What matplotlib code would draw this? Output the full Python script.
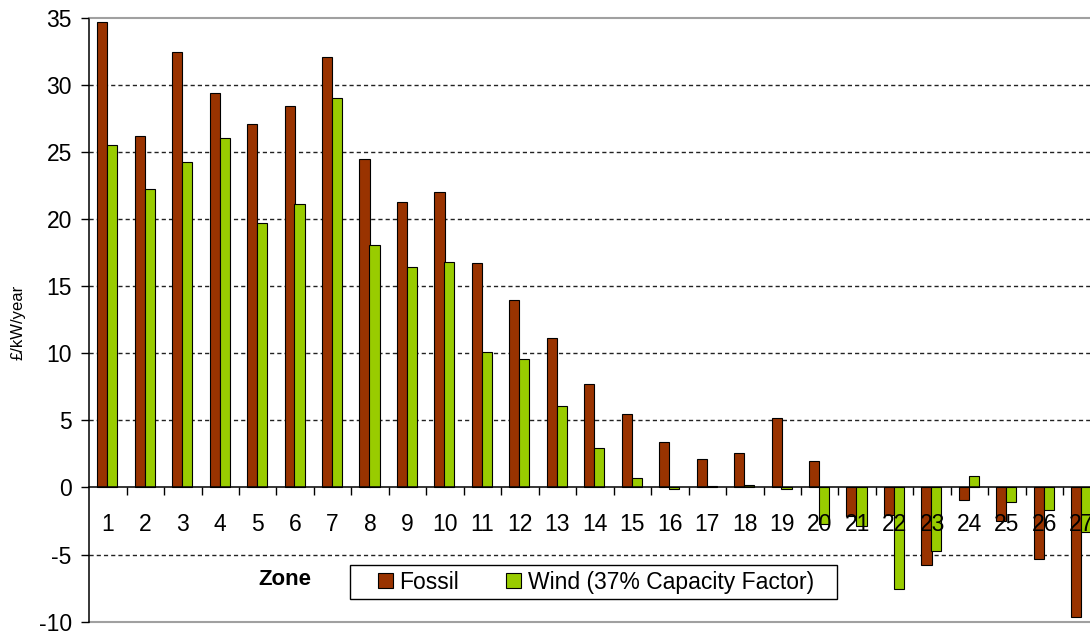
import matplotlib.pyplot as plt
import numpy as np
from matplotlib.patches import Rectangle

plt.rcParams["font.family"] = ["Liberation Sans", "DejaVu Sans"]

zones = [str(z) for z in range(1, 28)]
fossil = [34.65, 26.2, 32.45, 29.4, 27.1, 28.4, 32.05, 24.5, 21.3, 22.05,
          16.75, 13.95, 11.1, 7.7, 5.5, 3.4, 2.1, 2.6, 5.15, 1.95,
          -2.1, -2.05, -5.75, -0.95, -2.5, -5.35, -9.65]
wind = [25.55, 22.25, 24.25, 26.0, 19.7, 21.15, 29.05, 18.1, 16.4, 16.8,
        10.1, 9.55, 6.05, 2.95, 0.72, -0.12, 0.08, 0.18, -0.1, -2.7,
        -2.85, -7.6, -4.7, 0.82, -1.1, -1.7, -3.35]
yTicks = [-10, -5, 0, 5, 10, 15, 20, 25, 30, 35]
gridValues = [-5, 5, 10, 15, 20, 25, 30]

fig = plt.figure(figsize=(10.9, 6.32), dpi=100)
ax = fig.add_axes([0.0818, 0.0163, 0.928, 0.9557])
ax.set_axisbelow(False)

x = np.arange(len(zones))
barWidth = 0.27
ax.bar(x - 0.15, fossil, barWidth, color="#993300", edgecolor="black",
       linewidth=0.8, label="Fossil", zorder=2)
ax.bar(x + 0.115, wind, barWidth, color="#99CC00", edgecolor="black",
       linewidth=0.8, label="Wind (37% Capacity Factor)", zorder=2)

# dashed gridlines (not at 0, top and bottom are frame lines)
for g in gridValues:
    ax.axhline(g, color="#222222", linewidth=1.0, linestyle=(0, (3, 2.2)), zorder=0)

ax.set_xlim(-0.5, len(zones) - 0.5)
ax.set_ylim(-10, 35)

# frame: black left axis, grey top and bottom lines, category axis at zero
ax.spines["right"].set_visible(False)
ax.spines["left"].set_color("black")
ax.spines["left"].set_linewidth(1.1)
ax.spines["top"].set_color("#A0A0A0")
ax.spines["top"].set_linewidth(1.5)
ax.spines["bottom"].set_position(("data", 0))
ax.spines["bottom"].set_color("black")
ax.spines["bottom"].set_linewidth(1.1)
ax.axhline(-10, color="#A0A0A0", linewidth=1.5, zorder=1, clip_on=False)

ax.set_yticks(yTicks)
ax.set_yticklabels([str(v) for v in yTicks])
ax.tick_params(axis="y", direction="out", length=5.5, width=1.0,
               labelsize=16.5, pad=7)

ax.set_xticks(x[:-1] + 0.5)
ax.set_xticklabels([])
ax.set_xticks(x, minor=True)
ax.set_xticklabels(zones, minor=True)
ax.tick_params(axis="x", which="major", direction="out", length=5.5, width=1.0)
ax.tick_params(axis="x", which="minor", length=0, labelsize=16.5, pad=18.5)

fig.text(0.0165, 0.49, "£/kW/year", rotation=90, fontsize=12,
         ha="center", va="center")
fig.text(0.2615, 0.0823, "Zone", fontsize=16, fontweight="bold",
         ha="center", va="center")

# legend box drawn separately to match its padding
fig.patches.append(Rectangle((0.3211, 0.0522), 0.4472, 0.0538,
                             transform=fig.transFigure, facecolor="white",
                             edgecolor="black", linewidth=1.0, zorder=3))
leg = fig.legend(loc="center", bbox_to_anchor=(0.5466, 0.0791), ncol=2,
                 frameon=False, fontsize=16.5, handlelength=0.64,
                 handleheight=0.64, handletextpad=0.3, columnspacing=2.04,
                 borderpad=0, borderaxespad=0)
leg.set_zorder(4)

fig.savefig("out.png", dpi=100)
